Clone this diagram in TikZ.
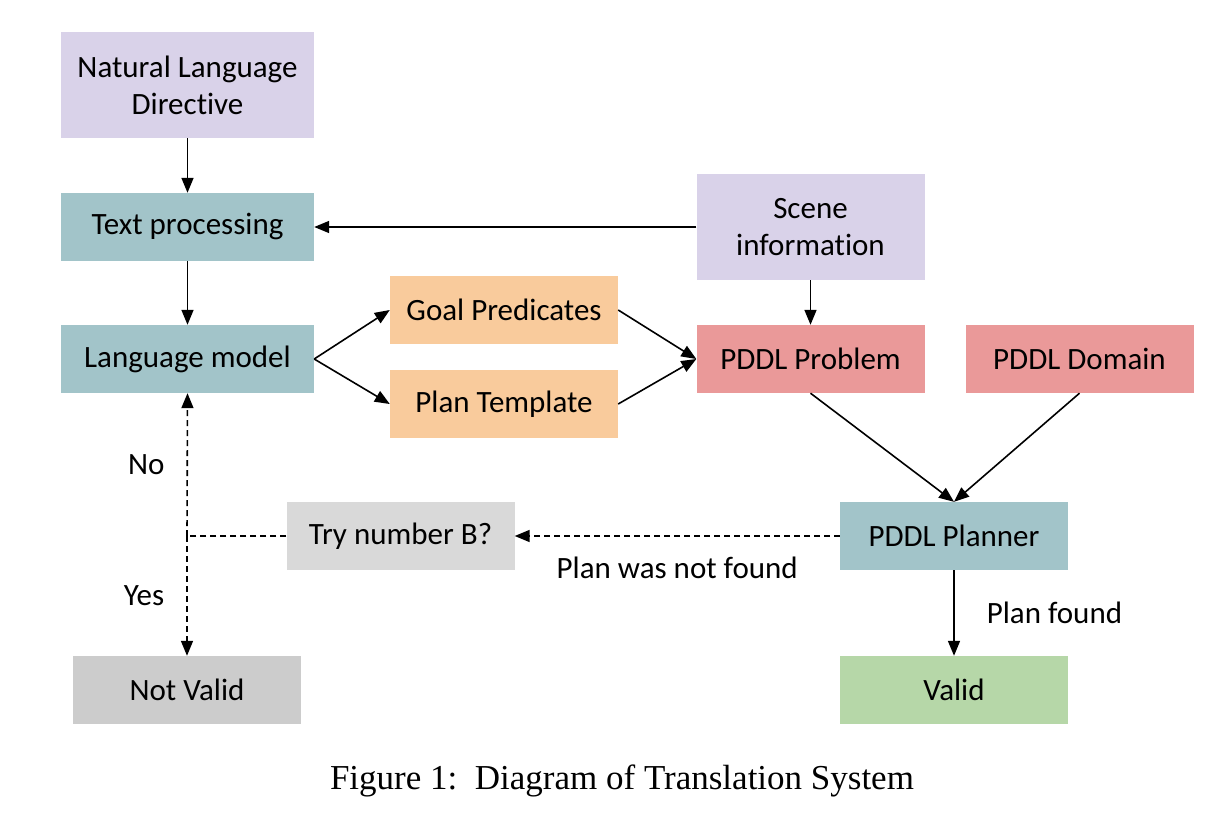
\documentclass[tikz,border=0pt]{standalone}
\usepackage{fontspec}
\setmainfont{Carlito}[Ligatures=NoCommon]
\newfontfamily\capfont{Liberation Serif}
\usetikzlibrary{arrows.meta, positioning}
\definecolor{lavender}{HTML}{D9D2E9}
\definecolor{tealbox}{HTML}{A2C4C9}
\definecolor{peach}{HTML}{F9CB9C}
\definecolor{rosebox}{HTML}{EA9999}
\definecolor{lightgrey}{HTML}{D9D9D9}
\definecolor{midgrey}{HTML}{CCCCCC}
\definecolor{sage}{HTML}{B6D7A8}

\begin{document}
\begin{tikzpicture}[x=1pt, y=-1pt,
        box/.style={rectangle, minimum width=228pt, minimum height=68pt, inner sep=0pt,
            align=center, font=\fontsize{31}{37}\selectfont},
        wide/.style={box, minimum width=253pt},
        tall/.style={minimum height=106pt},
        flow/.style={line width=1.6pt, -{Triangle[length=15pt, width=12pt]}},
        retry/.style={flow, dash pattern=on 6pt off 4pt},
        lbl/.style={font=\fontsize{31}{36}\selectfont, inner sep=0pt}]
        \useasboundingbox (0,0) rectangle (1212,826);

        % top row and left column
        \node[wide, tall, fill=lavender] (nld) at (187.5,85) {Natural Language\\Directive};
        \node[wide, fill=tealbox] (tp) at (187.5,227) {Text processing};
        \node[wide, fill=tealbox] (lm) at (187.5,359) {Language model};
        \node[box, fill=peach] (goal) at (504,310) {Goal Predicates};
        \node[box, fill=peach] (tmpl) at (504,404) {Plan Template};
        \node[box, tall, fill=lavender] (scene) at (810.5,227) {Scene\\information};
        \node[box, fill=rosebox] (prob) at (810.5,359) {PDDL Problem};
        \node[box, fill=rosebox] (dom) at (1079.5,359) {PDDL Domain};
        \node[box, fill=tealbox] (planner) at (954,536) {PDDL Planner};
        \node[box, fill=lightgrey] (try) at (400.5,536) {Try number B?};
        \node[box, fill=midgrey] (nv) at (187,690) {Not Valid};
        \node[box, fill=sage] (valid) at (954,690) {Valid};
        \coordinate (split) at (187,536);

        \draw[flow] (nld) -- (tp);
        \draw[flow] (scene.west) -- (tp.east);
        \draw[flow] (tp) -- (lm);
        \draw[flow] (lm.east) -- (goal.west);
        \draw[flow] (lm.east) -- (tmpl.west);
        \draw[flow] (goal.east) -- (prob.west);
        \draw[flow] (tmpl.east) -- (prob.west);
        \draw[flow] (scene) -- (prob);
        \draw[flow] (prob.south) -- (planner.north);
        \draw[flow] (dom.south) -- (planner.north);
        \draw[retry] (planner.west) -- node[lbl, below=20pt] {Plan was not found} (try.east);
        \draw[line width=1.6pt, dash pattern=on 6pt off 4pt] (try.west) -- (split);
        \draw[retry] (split) -- node[lbl, left=22pt] {No} (lm.south);
        \draw[retry] (split) -- node[lbl, left=22pt] {Yes} (nv.north);
        \draw[flow] (planner) -- node[lbl, right=32pt] {Plan found} (valid);

        \node[font=\capfont\fontsize{35}{40}\selectfont] (caption) at (622,781) {Figure 1:\ \ Diagram of Translation System};
    \end{tikzpicture}
\end{document}
